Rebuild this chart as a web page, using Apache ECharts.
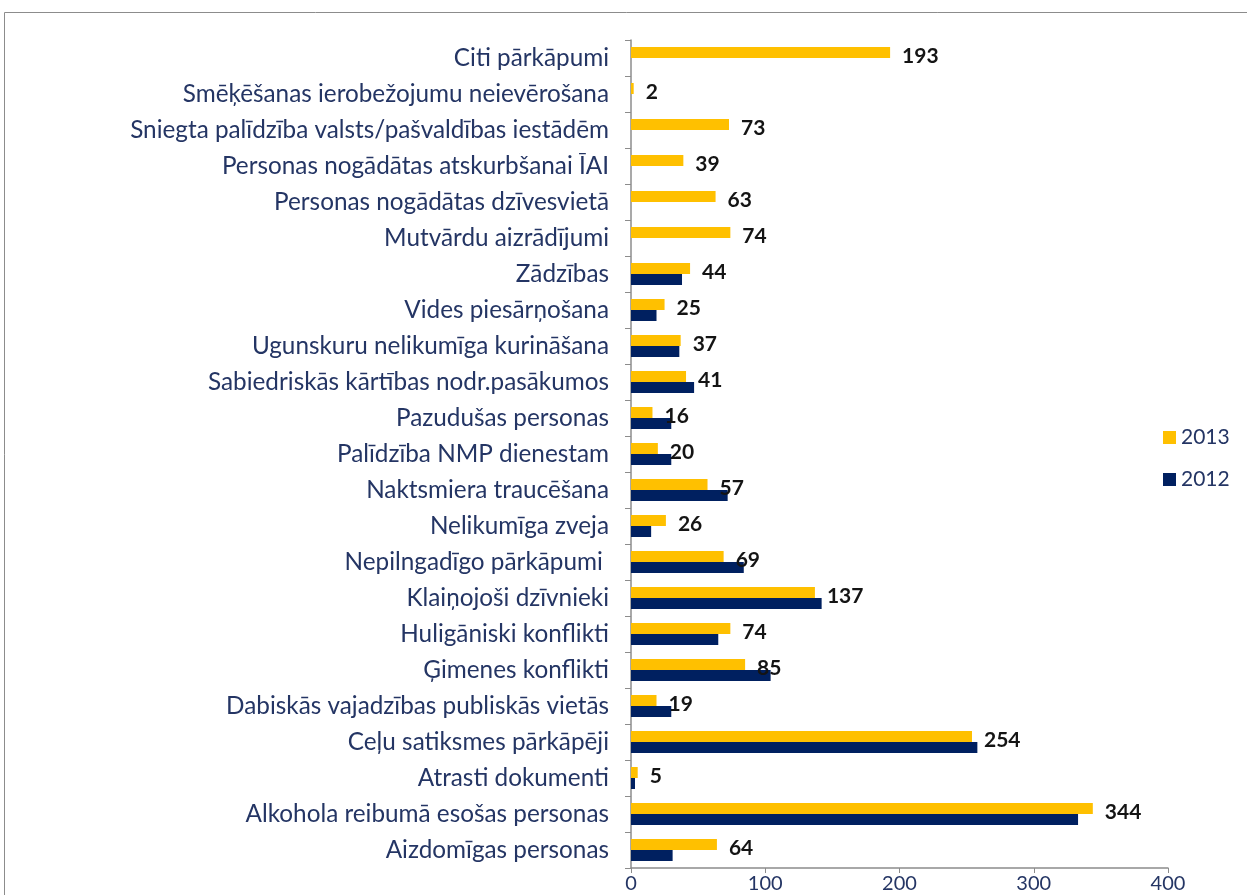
<!DOCTYPE html>
<html>
<head>
<meta charset="utf-8">
<script src="https://cdn.jsdelivr.net/npm/echarts@6/dist/echarts.min.js"></script>
<style>
  html, body { margin: 0; padding: 0; background: #fff; }
  #chart { width: 1247px; height: 895px; }
</style>
</head>
<body>
<div id="chart"></div>
<script>
// categories listed bottom -> top (category axis index 0 is at the bottom)
const categories = [
  'Aizdomīgas personas',
  'Alkohola reibumā esošas personas',
  'Atrasti dokumenti',
  'Ceļu satiksmes pārkāpēji',
  'Dabiskās vajadzības publiskās vietās',
  'Ģimenes konflikti',
  'Huligāniski konflikti',
  'Klaiņojoši dzīvnieki',
  'Nepilngadīgo pārkāpumi ',
  'Nelikumīga zveja',
  'Naktsmiera traucēšana',
  'Palīdzība NMP dienestam',
  'Pazudušas personas',
  'Sabiedriskās kārtības nodr.pasākumos',
  'Ugunskuru nelikumīga kurināšana',
  'Vides piesārņošana',
  'Zādzības',
  'Mutvārdu aizrādījumi',
  'Personas nogādātas dzīvesvietā',
  'Personas nogādātas atskurbšanai ĪAI',
  'Sniegta palīdzība valsts/pašvaldības iestādēm',
  'Smēķēšanas ierobežojumu neievērošana',
  'Citi pārkāpumi'
]
const values2013 = [64, 344, 5, 254, 19, 85, 74, 137, 69, 26, 57, 20, 16, 41, 37, 25, 44, 74, 63, 39, 73, 2, 193]
const values2012 = [31, 333, 3, 258, 30, 104, 65, 142, 84, 15, 72, 30, 30, 47, 36, 19, 38, null, null, null, null, null, null]
const xTicks = [0, 100, 200, 300, 400]

const textColor = '#243564'
const fontFamily = 'Lato, "Open Sans", sans-serif'

const chart = echarts.init(document.getElementById('chart'))
chart.setOption({
  animation: false,
  textStyle: { fontFamily },
  graphic: [{
    type: 'rect',
    shape: { x: 4.5, y: 12.5, width: 1300, height: 950 },
    style: { fill: 'none', stroke: '#8c8c8c', lineWidth: 1 },
    silent: true
  }],
  grid: { left: 631, right: 79, top: 40, bottom: 27, containLabel: false },
  legend: {
    orient: 'vertical',
    left: 1158,
    top: 422,
    itemWidth: 13,
    itemHeight: 13,
    itemGap: 21,
    icon: 'rect',
    data: ['2013', '2012'],
    textStyle: { color: textColor, fontSize: 21, fontFamily }
  },
  xAxis: {
    type: 'value',
    min: xTicks[0],
    max: xTicks[xTicks.length - 1],
    interval: 100,
    axisLine: { show: true, lineStyle: { color: '#8c8c8c', width: 1.5 } },
    axisTick: { show: true, length: 5, lineStyle: { color: '#8c8c8c' } },
    axisLabel: { color: textColor, fontSize: 20, margin: 6, fontFamily },
    splitLine: { show: false }
  },
  yAxis: {
    type: 'category',
    data: categories,
    axisLine: { show: true, lineStyle: { color: '#8c8c8c', width: 1.5 } },
    axisTick: { show: true, length: 6, lineStyle: { color: '#8c8c8c' } },
    axisLabel: { color: textColor, fontSize: 24.3, margin: 22, fontFamily }
  },
  series: [
    {
      name: '2013',
      type: 'bar',
      data: values2013,
      barWidth: 11,
      barGap: '0%',
      itemStyle: { color: '#FFC000' },
      label: {
        show: true,
        position: 'right',
        distance: 12,
        offset: [0, 4],
        color: '#141414',
        fontWeight: 'bold',
        fontSize: 21,
        fontFamily
      }
    },
    {
      name: '2012',
      type: 'bar',
      data: values2012,
      barWidth: 11,
      barGap: '0%',
      itemStyle: { color: '#002060' }
    }
  ]
})
</script>
</body>
</html>
